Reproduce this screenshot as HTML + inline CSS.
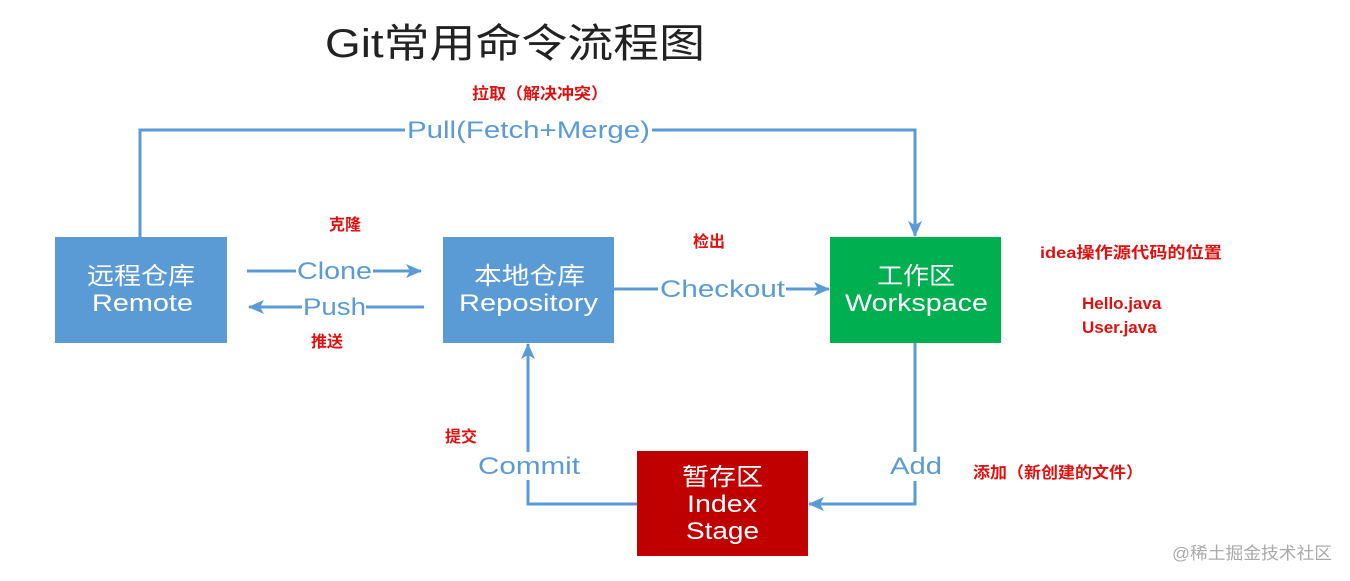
<!DOCTYPE html>
<html><head><meta charset="utf-8"><style>
html,body{margin:0;padding:0;background:#fff;width:1350px;height:581px;overflow:hidden}
svg text{font-family:"Liberation Sans","Noto Sans CJK SC",sans-serif}
</style></head><body>
<svg width="1350" height="581" xmlns="http://www.w3.org/2000/svg">
<defs><marker id="a" markerWidth="16" markerHeight="14" refX="15" refY="7" orient="auto" markerUnits="userSpaceOnUse"><path d="M0,0 L16,7 L0,14 L4,7 Z" fill="#5b9bd5"/></marker></defs>
<text x="325" y="57" font-size="40" fill="#222" textLength="380" lengthAdjust="spacingAndGlyphs">Git常用命令流程图</text>
<g stroke="#5b9bd5" stroke-width="3" fill="none">
<polyline points="140,237 140,130 405,130"/>
<polyline points="652,130 915,130 915,236" marker-end="url(#a)"/>
<line x1="247" y1="271" x2="296" y2="271"/>
<line x1="373" y1="271" x2="421" y2="271" marker-end="url(#a)"/>
<line x1="424" y1="307" x2="366" y2="307"/>
<line x1="302" y1="307" x2="249" y2="307" marker-end="url(#a)"/>
<line x1="614" y1="289" x2="658" y2="289"/>
<line x1="786" y1="289" x2="829" y2="289" marker-end="url(#a)"/>
<line x1="915" y1="343" x2="915" y2="452"/>
<polyline points="915,481 915,504 809,504" marker-end="url(#a)"/>
<polyline points="637,504 528,504 528,480"/>
<line x1="528" y1="452" x2="528" y2="344" marker-end="url(#a)"/>
</g>
<g fill="#5b9bd5" font-size="24">
<text x="407" y="138" textLength="243" lengthAdjust="spacingAndGlyphs">Pull(Fetch+Merge)</text>
<text x="297" y="279" textLength="75" lengthAdjust="spacingAndGlyphs">Clone</text>
<text x="303" y="315" textLength="63" lengthAdjust="spacingAndGlyphs">Push</text>
<text x="660" y="297" textLength="125" lengthAdjust="spacingAndGlyphs">Checkout</text>
<text x="890" y="474" textLength="52" lengthAdjust="spacingAndGlyphs">Add</text>
<text x="478" y="474" textLength="102" lengthAdjust="spacingAndGlyphs">Commit</text>
</g>
<rect x="55" y="237" width="172" height="106" fill="#5b9bd5"/>
<rect x="443" y="237" width="171" height="106" fill="#5b9bd5"/>
<rect x="830" y="237" width="171" height="106" fill="#00b050"/>
<rect x="637" y="451" width="171" height="105" fill="#c00000"/>
<g fill="#fff" font-size="24">
<text x="87" y="284" textLength="108" lengthAdjust="spacingAndGlyphs">远程仓库</text><text x="92" y="311" textLength="101" lengthAdjust="spacingAndGlyphs">Remote</text>
<text x="474" y="284" textLength="111" lengthAdjust="spacingAndGlyphs">本地仓库</text><text x="459" y="311" textLength="139" lengthAdjust="spacingAndGlyphs">Repository</text>
<text x="877" y="284" textLength="78" lengthAdjust="spacingAndGlyphs">工作区</text><text x="845" y="311" textLength="143" lengthAdjust="spacingAndGlyphs">Workspace</text>
<text x="682" y="485" textLength="81" lengthAdjust="spacingAndGlyphs">暂存区</text><text x="687" y="512" textLength="70" lengthAdjust="spacingAndGlyphs">Index</text><text x="686" y="539" textLength="73" lengthAdjust="spacingAndGlyphs">Stage</text>
</g>
<g fill="#e01010" font-size="16" font-weight="bold">
<text x="472" y="99" textLength="136" lengthAdjust="spacingAndGlyphs">拉取（解决冲突）</text>
<text x="329" y="230">克隆</text>
<text x="311" y="347">推送</text>
<text x="693" y="247">检出</text>
<text x="1040" y="258" textLength="182" lengthAdjust="spacingAndGlyphs">idea操作源代码的位置</text>
<text x="1082" y="309" font-size="17">Hello.java</text>
<text x="1082" y="333" font-size="17">User.java</text>
<text x="445" y="442">提交</text>
<text x="973" y="478" textLength="170" lengthAdjust="spacingAndGlyphs">添加（新创建的文件）</text>
</g>
<text x="1172" y="559" font-size="17" fill="#aaa" textLength="160" lengthAdjust="spacingAndGlyphs">@稀土掘金技术社区</text>
</svg>
</body></html>
